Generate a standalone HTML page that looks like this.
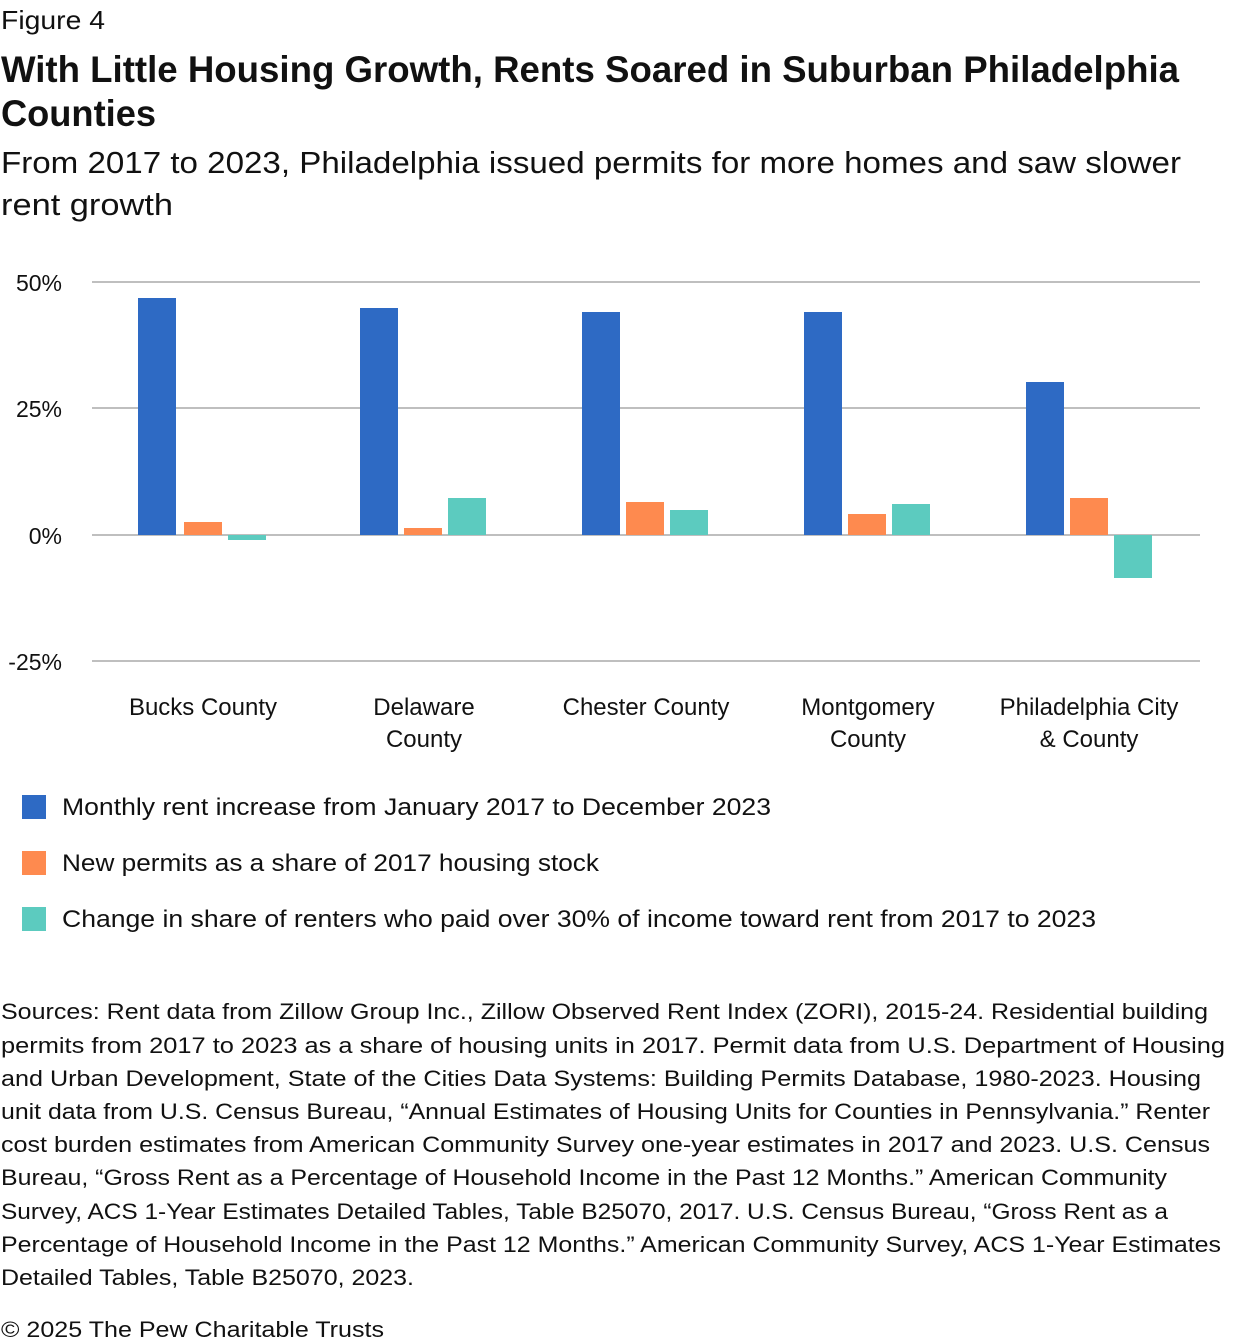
<!DOCTYPE html>
<html><head><meta charset="utf-8"><style>
body{margin:0;background:#fff}
svg{display:block}
text{font-family:"Liberation Sans",sans-serif;fill:#111}
</style></head><body>
<svg width="1240" height="1344" viewBox="0 0 1240 1344" xmlns="http://www.w3.org/2000/svg">
<text x="1" y="29" font-size="26" textLength="104" lengthAdjust="spacingAndGlyphs">Figure 4</text>
<text x="1" y="82" font-size="37" font-weight="bold" textLength="1178" lengthAdjust="spacingAndGlyphs">With Little Housing Growth, Rents Soared in Suburban Philadelphia</text>
<text x="1" y="126" font-size="37" font-weight="bold" textLength="155" lengthAdjust="spacingAndGlyphs">Counties</text>
<text x="1" y="173" font-size="31" textLength="1180" lengthAdjust="spacingAndGlyphs">From 2017 to 2023, Philadelphia issued permits for more homes and saw slower</text>
<text x="1" y="215" font-size="31" textLength="172" lengthAdjust="spacingAndGlyphs">rent growth</text>
<g stroke="#aaa" stroke-width="1.5">
<line x1="92" y1="282" x2="1200" y2="282"/><line x1="92" y1="408" x2="1200" y2="408"/>
<line x1="92" y1="535" x2="1200" y2="535"/><line x1="92" y1="661" x2="1200" y2="661"/>
</g>
<g font-size="23" text-anchor="end">
<text x="62" y="291">50%</text><text x="62" y="417">25%</text><text x="62" y="544">0%</text><text x="62" y="670">-25%</text>
</g>
<g fill="#2e6ac4">
<rect x="138" y="298" width="38" height="237"/><rect x="360" y="308" width="38" height="227"/>
<rect x="582" y="312" width="38" height="223"/><rect x="804" y="312" width="38" height="223"/>
<rect x="1026" y="382" width="38" height="153"/>
</g>
<g fill="#fe8a4f">
<rect x="184" y="522" width="38" height="13"/><rect x="404" y="528" width="38" height="7"/>
<rect x="626" y="502" width="38" height="33"/><rect x="848" y="514" width="38" height="21"/>
<rect x="1070" y="498" width="38" height="37"/>
</g>
<g fill="#5ccbbf">
<rect x="228" y="535" width="38" height="5"/><rect x="448" y="498" width="38" height="37"/>
<rect x="670" y="510" width="38" height="25"/><rect x="892" y="504" width="38" height="31"/>
<rect x="1114" y="535" width="38" height="43"/>
</g>
<g font-size="24" text-anchor="middle">
<text x="203" y="715">Bucks County</text>
<text x="424" y="715">Delaware</text><text x="424" y="747">County</text>
<text x="646" y="715">Chester County</text>
<text x="868" y="715">Montgomery</text><text x="868" y="747">County</text>
<text x="1089" y="715">Philadelphia City</text><text x="1089" y="747">&amp; County</text>
</g>
<rect x="22" y="795" width="24" height="24" fill="#2e6ac4"/>
<rect x="22" y="851" width="24" height="24" fill="#fe8a4f"/>
<rect x="22" y="907" width="24" height="24" fill="#5ccbbf"/>
<g font-size="24">
<text x="62" y="815" textLength="709" lengthAdjust="spacingAndGlyphs">Monthly rent increase from January 2017 to December 2023</text>
<text x="62" y="871" textLength="537" lengthAdjust="spacingAndGlyphs">New permits as a share of 2017 housing stock</text>
<text x="62" y="927" textLength="1034" lengthAdjust="spacingAndGlyphs">Change in share of renters who paid over 30% of income toward rent from 2017 to 2023</text>
</g>
<g font-size="22">
<text x="1" y="1019" textLength="1207" lengthAdjust="spacingAndGlyphs">Sources: Rent data from Zillow Group Inc., Zillow Observed Rent Index (ZORI), 2015-24. Residential building</text>
<text x="1" y="1053" textLength="1224" lengthAdjust="spacingAndGlyphs">permits from 2017 to 2023 as a share of housing units in 2017. Permit data from U.S. Department of Housing</text>
<text x="1" y="1086" textLength="1200" lengthAdjust="spacingAndGlyphs">and Urban Development, State of the Cities Data Systems: Building Permits Database, 1980-2023. Housing</text>
<text x="1" y="1119" textLength="1209" lengthAdjust="spacingAndGlyphs">unit data from U.S. Census Bureau, “Annual Estimates of Housing Units for Counties in Pennsylvania.” Renter</text>
<text x="1" y="1152" textLength="1209" lengthAdjust="spacingAndGlyphs">cost burden estimates from American Community Survey one-year estimates in 2017 and 2023. U.S. Census</text>
<text x="1" y="1185" textLength="1166" lengthAdjust="spacingAndGlyphs">Bureau, “Gross Rent as a Percentage of Household Income in the Past 12 Months.” American Community</text>
<text x="1" y="1219" textLength="1167" lengthAdjust="spacingAndGlyphs">Survey, ACS 1-Year Estimates Detailed Tables, Table B25070, 2017. U.S. Census Bureau, “Gross Rent as a</text>
<text x="1" y="1252" textLength="1220" lengthAdjust="spacingAndGlyphs">Percentage of Household Income in the Past 12 Months.” American Community Survey, ACS 1-Year Estimates</text>
<text x="1" y="1285" textLength="413" lengthAdjust="spacingAndGlyphs">Detailed Tables, Table B25070, 2023.</text>
<text x="1" y="1337" textLength="383" lengthAdjust="spacingAndGlyphs">© 2025 The Pew Charitable Trusts</text>
</g>
</svg>
</body></html>
